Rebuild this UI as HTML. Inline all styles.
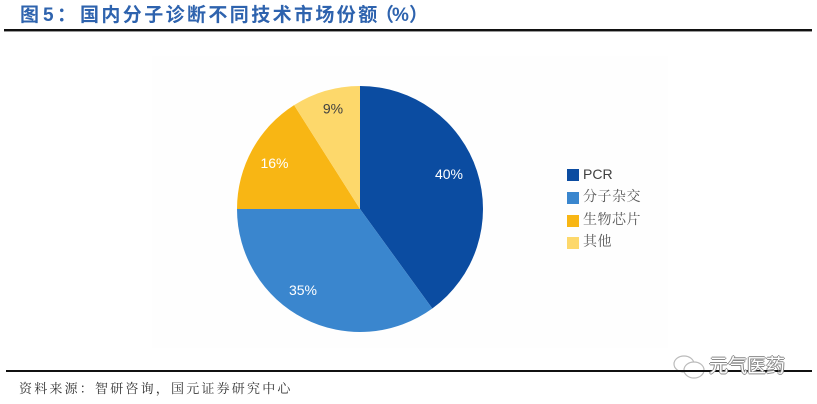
<!DOCTYPE html>
<html>
<head>
<meta charset="utf-8">
<style>
  html,body{margin:0;padding:0;background:#fff;}
  body{width:817px;height:404px;position:relative;overflow:hidden;}
  .t{position:absolute;white-space:nowrap;}
  .title{font-family:"Liberation Sans","Noto Sans CJK SC",sans-serif;font-weight:700;color:#2E63AE;font-size:19px;line-height:19px;top:6px;}
  .leg{font-family:"Liberation Serif","Noto Serif CJK SC",serif;color:#595959;font-size:14px;line-height:14px;letter-spacing:0.5px;}
  .sq{position:absolute;width:12px;height:12px;left:567px;}
</style>
</head>
<body>
<div class="t title" style="left:20px;">图</div>
<div class="t title" style="left:43px;">5</div>
<div class="t title" style="left:57px;">：</div>
<div class="t title" style="left:80px;letter-spacing:2.4px;">国内分子诊断不同技术市场份额</div>
<div class="t title" style="left:375px;">（</div>
<div class="t title" style="left:392px;">%</div>
<div class="t title" style="left:409px;">）</div>

<div style="position:absolute;left:4px;top:29px;width:808px;height:2px;background:#111;"></div>
<div style="position:absolute;left:4px;top:31px;width:808px;height:1px;background:#999;"></div>

<div style="position:absolute;left:152px;top:56px;width:516px;height:292px;background:#fefefe;"></div>

<svg width="817" height="404" style="position:absolute;left:0;top:0;" xmlns="http://www.w3.org/2000/svg">
  <path d="M360,209 L360,86 A123,123 0 0 1 432.30,308.51 Z" fill="#0B4CA1"/>
  <path d="M360,209 L432.30,308.51 A123,123 0 0 1 237,209 Z" fill="#3A86CE"/>
  <path d="M360,209 L237,209 A123,123 0 0 1 294.10,105.15 Z" fill="#F8B614"/>
  <path d="M360,209 L294.10,105.15 A123,123 0 0 1 360,86 Z" fill="#FDD86B"/>
  <g font-family="Liberation Sans, sans-serif" font-size="14" text-anchor="middle">
    <text x="449" y="179" fill="#fff">40%</text>
    <text x="303" y="295" fill="#fff">35%</text>
    <text x="274.5" y="168" fill="#fff">16%</text>
    <text x="333" y="113.5" fill="#404040">9%</text>
  </g>
  <g fill="#fff" stroke="#bbb" stroke-width="1.2">
    <ellipse cx="684" cy="364" rx="10" ry="8"/>
    <ellipse cx="694" cy="370" rx="10" ry="8"/>
  </g>
</svg>

<div class="sq" style="top:169px;background:#0B4CA1;"></div>
<div class="t" style="left:583px;top:167px;font-family:'Liberation Sans',sans-serif;font-size:14px;line-height:14px;color:#404040;">PCR</div>
<div class="sq" style="top:192px;background:#3A86CE;"></div>
<div class="t leg" style="left:583px;top:191px;">分子杂交</div>
<div class="sq" style="top:215px;background:#F8B614;"></div>
<div class="t leg" style="left:583px;top:214px;">生物芯片</div>
<div class="sq" style="top:237px;background:#FDD86B;"></div>
<div class="t leg" style="left:583px;top:236px;">其他</div>

<div style="position:absolute;left:6px;top:370px;width:806px;height:2px;background:#111;"></div>

<div class="t" style="left:709px;top:357px;font-family:'Liberation Sans','Noto Sans CJK SC',sans-serif;font-size:19px;line-height:19px;color:#fff;text-shadow:1px 0 0 #888,-1px 0 0 #888,0 1px 0 #888,0 -1px 0 #888;">元气医药</div>

<div class="t" style="left:19px;top:382px;font-family:'Liberation Serif','Noto Serif CJK SC',serif;font-size:13px;line-height:13px;letter-spacing:2.2px;color:#333;">资料来源：智研咨询，国元证券研究中心</div>
</body>
</html>
